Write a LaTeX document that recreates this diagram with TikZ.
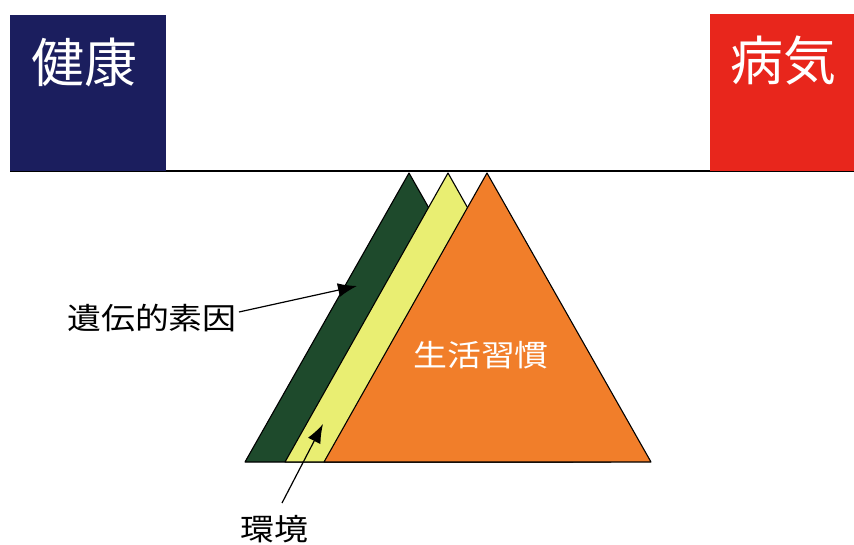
\documentclass[tikz,border=0pt]{standalone}
\usepackage{fontspec}
\usetikzlibrary{arrows.meta}
\newfontfamily\jp{Noto Sans CJK JP}
\definecolor{navy}{HTML}{1B1E5E}
\definecolor{boxred}{HTML}{E8261C}
\definecolor{dgreen}{HTML}{1E4A2C}
\definecolor{lyellow}{HTML}{E9EE72}
\definecolor{orng}{HTML}{F17E2A}
\tikzset{
  tri/.style={draw=black, line width=1.1pt, line join=round},
  lbl/.style={inner sep=0pt, xscale=1.13, font=\jp\fontsize{30}{30}\selectfont},
  ptr/.style={-{Latex[length=19pt,width=14pt]}, line width=1.2pt}
}
\begin{document}
\begin{tikzpicture}[x=1pt,y=-1pt]
\useasboundingbox (0,0) rectangle (854,545);
\fill[white] (0,0) rectangle (854,545);
% beam
\coordinate (bl) at (10,171);
\coordinate (br) at (854,171);
\draw[line width=1.3pt] (bl) -- (br);
% boxes
\fill[navy] (10,15) rectangle (166,171);
\fill[boxred] (710,14) rectangle (854,171);
\node[inner sep=0pt, text=white, font=\jp\fontsize{53}{53}\selectfont] (health) at (84,62) {健康};
\node[inner sep=0pt, text=white, font=\jp\fontsize{53}{53}\selectfont] (ill) at (783,61) {病気};
% triangles
\filldraw[tri, fill=dgreen] (409,173) -- (245,462) -- (573,462) -- cycle;
\filldraw[tri, fill=lyellow] (448,173) -- (285,462) -- (611,462) -- cycle;
\filldraw[tri, fill=orng] (487,173) -- (324,462) -- (651,462) -- cycle;
% labels
\node[lbl, text=white] (life) at (481,355) {生活習慣};
\node[lbl] (gene) at (152,318) {遺伝的素因};
\node[lbl] (env) at (274,529) {環境};
\coordinate (genetip) at (357,286);
\coordinate (envtip) at (323,424);
\draw[ptr] (gene.east) ++(2,-6) -- (genetip);
\draw[ptr] (282,503) -- (envtip);
\end{tikzpicture}
\end{document}
